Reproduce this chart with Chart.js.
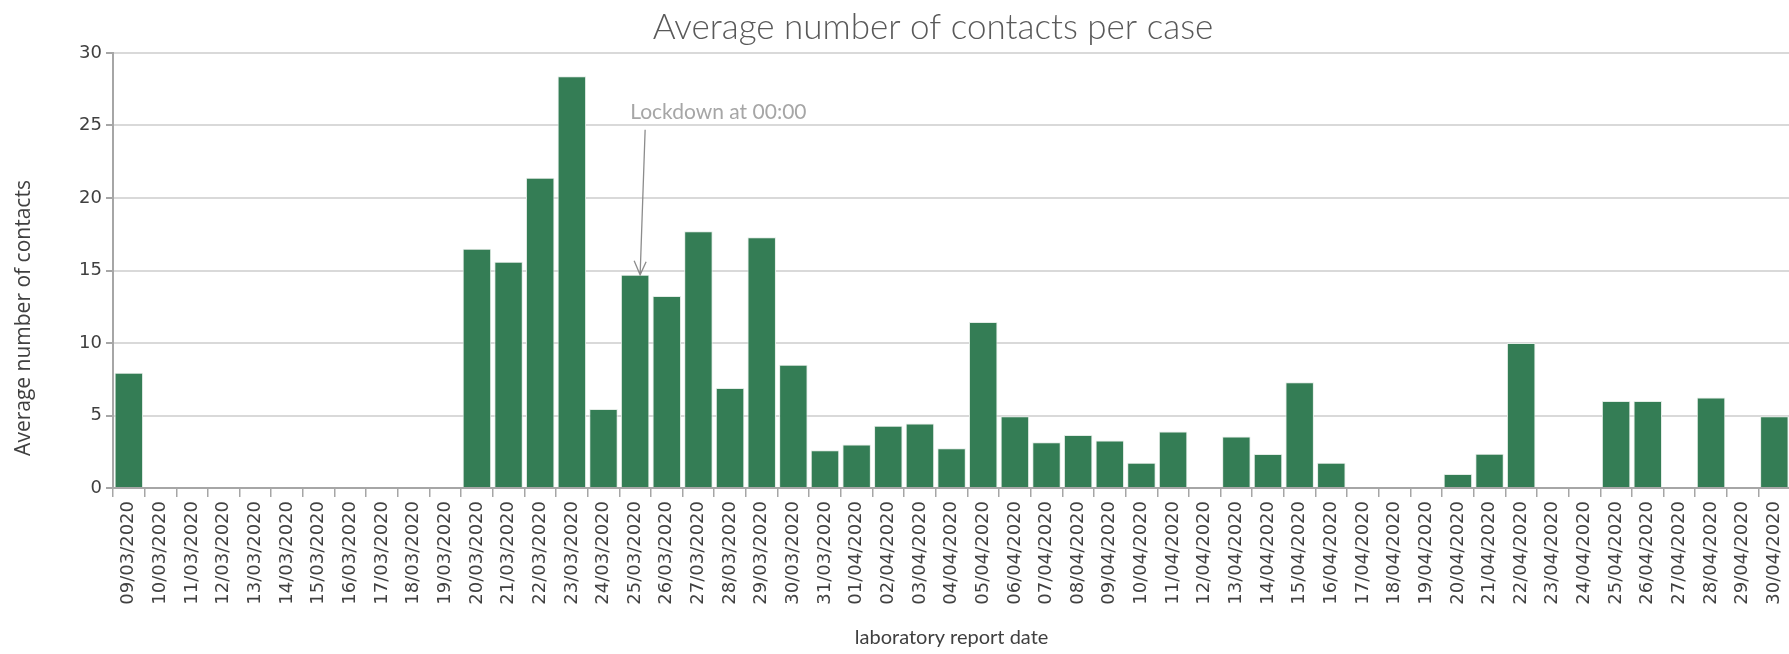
<!DOCTYPE html>
<html lang="en">
<head>
<meta charset="UTF-8">
<title>Average number of contacts per case</title>
<script src="https://cdn.jsdelivr.net/npm/chart.js"></script>
<style>
  html, body { margin: 0; padding: 0; background: #fff; overflow: hidden; }
  #wrap { width: 1800px; height: 654px; }
</style>
</head>
<body>
<div id="wrap"><canvas id="contactsChart"></canvas></div>

<script>
// report dates, 09/03/2020 .. 30/04/2020
const dates = [
    '09/03/2020', '10/03/2020', '11/03/2020', '12/03/2020', '13/03/2020', '14/03/2020',
    '15/03/2020', '16/03/2020', '17/03/2020', '18/03/2020', '19/03/2020', '20/03/2020',
    '21/03/2020', '22/03/2020', '23/03/2020', '24/03/2020', '25/03/2020', '26/03/2020',
    '27/03/2020', '28/03/2020', '29/03/2020', '30/03/2020', '31/03/2020', '01/04/2020',
    '02/04/2020', '03/04/2020', '04/04/2020', '05/04/2020', '06/04/2020', '07/04/2020',
    '08/04/2020', '09/04/2020', '10/04/2020', '11/04/2020', '12/04/2020', '13/04/2020',
    '14/04/2020', '15/04/2020', '16/04/2020', '17/04/2020', '18/04/2020', '19/04/2020',
    '20/04/2020', '21/04/2020', '22/04/2020', '23/04/2020', '24/04/2020', '25/04/2020',
    '26/04/2020', '27/04/2020', '28/04/2020', '29/04/2020', '30/04/2020'
];

// average contacts per case
const avgContacts = [
    7.95, 0, 0, 0, 0, 0,
    0, 0, 0, 0, 0, 16.5,
    15.6, 21.4, 28.4, 5.45, 14.7, 13.25,
    17.7, 6.9, 17.3, 8.5, 2.6, 3.0,
    4.3, 4.45, 2.75, 11.45, 4.95, 3.15,
    3.65, 3.27, 1.75, 3.9, 0, 3.55,
    2.35, 7.3, 1.75, 0, 0, 0,
    0.97, 2.37, 10.0, 0, 0, 6.0,
    6.0, 0, 6.25, 0, 4.95
];

const yTicks = [0, 5, 10, 15, 20, 25, 30];
const lockdownDate = '25/03/2020';
const lockdownText = 'Lockdown at 00:00';

// title, y-axis title and the lockdown arrow
const extras = {
    id: 'extras',
    afterDraw(chart) {
        const c = chart.ctx;
        const xs = chart.scales.x, ys = chart.scales.y;
        c.save();

        c.fillStyle = '#595959';
        c.font = '300 35px Lato';
        c.textAlign = 'center';
        c.textBaseline = 'middle';
        c.fillText('Average number of contacts per case', 933, 28);

        c.save();
        c.translate(24, 318);
        c.rotate(-Math.PI / 2);
        c.fillStyle = '#404040';
        c.font = '21px "Open Sans"';
        c.fillText('Average number of contacts', 0, 0);
        c.restore();

        const i = dates.indexOf(lockdownDate);
        const x = xs.getPixelForValue(i);
        const yTip = ys.getPixelForValue(avgContacts[i]);
        const yText = ys.getPixelForValue(25.9);
        const yStart = ys.getPixelForValue(24.7);

        c.fillStyle = '#a6a6a6';
        c.font = '21px Lato';
        c.textAlign = 'left';
        c.fillText(lockdownText, x - 5, yText);

        c.strokeStyle = '#8c8c8c';
        c.lineWidth = 1.3;
        c.beginPath();
        c.moveTo(x + 10, yStart);
        c.lineTo(x + 5, yTip);
        c.moveTo(x - 1, yTip - 14);
        c.lineTo(x + 5, yTip);
        c.lineTo(x + 11, yTip - 13);
        c.stroke();

        c.restore();
    }
};

const ctx = document.getElementById('contactsChart').getContext('2d');
const contactsChart = new Chart(ctx, {
    type: 'bar',
    data: {
        labels: dates,
        datasets: [{
            label: 'Average number of contacts',
            data: avgContacts,
            backgroundColor: '#347d55',
            borderColor: '#e3ece6',
            borderWidth: 1,
            barPercentage: 0.9,
            categoryPercentage: 1.0
        }]
    },
    options: {
        responsive: true,
        maintainAspectRatio: false,
        animation: false,
        layout: { padding: { top: 53, right: 7, left: 0, bottom: 0 } },
        plugins: {
            legend: { display: false },
            title: { display: false },
            tooltip: { enabled: false }
        },
        scales: {
            x: {
                grid: {
                    drawOnChartArea: false,
                    drawTicks: true,
                    tickLength: 9,
                    color: '#a6a6a6',
                    lineWidth: 1.5
                },
                border: { color: '#a6a6a6', width: 2 },
                ticks: {
                    maxRotation: 90,
                    minRotation: 90,
                    autoSkip: false,
                    color: '#404040',
                    font: { family: 'DejaVu Sans', size: 18 },
                    padding: 4
                },
                title: {
                    display: true,
                    text: 'laboratory report date',
                    color: '#404040',
                    font: { family: 'Lato', size: 20 },
                    padding: { top: 0, bottom: 4 }
                },
                afterFit(s) { s.height = 166; }
            },
            y: {
                min: 0,
                max: 30,
                afterBuildTicks(s) { s.ticks = yTicks.map(v => ({ value: v })); },
                grid: {
                    color: '#d9d9d9',
                    lineWidth: 2,
                    tickColor: '#a6a6a6',
                    tickLength: 7
                },
                border: { color: '#a6a6a6', width: 2 },
                ticks: {
                    color: '#404040',
                    font: { family: 'DejaVu Sans', size: 18 },
                    padding: 4
                },
                afterFit(s) { s.width = 113; }
            }
        }
    },
    plugins: [extras]
});
</script>
</body>
</html>
